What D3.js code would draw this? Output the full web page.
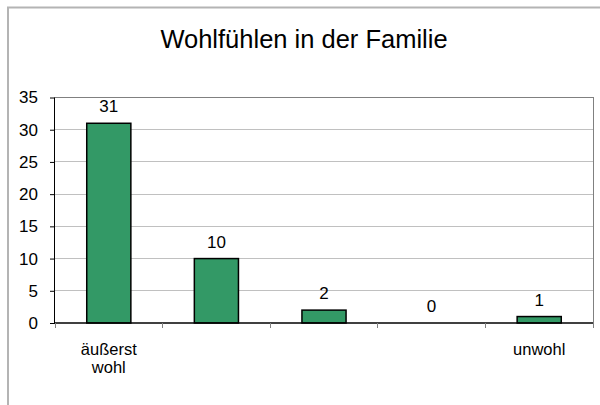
<!DOCTYPE html>
<html><head><meta charset="utf-8">
<script src="https://cdn.jsdelivr.net/npm/d3@7"></script>
<style>body{margin:0;background:#fff}svg{display:block}text{font-family:"Liberation Sans",Arial,sans-serif;fill:#000}</style>
</head><body>
<script>
const categories = ["äußerst wohl", "", "", "", "unwohl"];
const values = [31, 10, 2, 0, 1];
const yTicks = [0, 5, 10, 15, 20, 25, 30, 35];
const title = "Wohlfühlen in der Familie";

const W = 600, H = 405;
const svg = d3.select("body").append("svg").attr("width", W).attr("height", H);
svg.append("rect").attr("width", W).attr("height", H).attr("fill", "#fff");
// outer frame
svg.append("path").attr("d", "M8,405 V7.5 H600").attr("fill", "none").attr("stroke", "#b4b4b4").attr("stroke-width", 2);

const L = 55, R = 593, T = 97.5, B = 323;
const x = d3.scaleBand().domain(d3.range(categories.length)).range([L, R]);
const y = d3.scaleLinear().domain([0, 35]).range([B, T]);

svg.append("text").attr("x", 304).attr("y", 48).attr("text-anchor", "middle")
  .style("font-size", "25.5px").text(title);

// gridlines
svg.append("g").selectAll("line").data(yTicks.filter(d => d > 0 && d < 35)).join("line")
  .attr("x1", L).attr("x2", R).attr("y1", d => y(d)).attr("y2", d => y(d))
  .attr("stroke", "#c0c0c0").attr("stroke-width", 1).attr("shape-rendering", "crispEdges");
// plot border top/right
svg.append("path").attr("d", `M${L},${y(35)} H${R} V${B}`).attr("fill", "none")
  .attr("stroke", "#808080").attr("stroke-width", 1).attr("shape-rendering", "crispEdges");

// y axis
const yAxis = d3.axisLeft(y).tickValues(yTicks).tickSize(5).tickPadding(12);
const gy = svg.append("g").attr("transform", `translate(${L},0)`).call(yAxis);
gy.select(".domain").attr("stroke", "#000").attr("d", `M-0.5,${T}V${B}`);
gy.selectAll(".tick line").attr("stroke", "#000");
gy.selectAll("text").style("font-size", "17px").attr("fill", "#000");

// bars
const bw = x.bandwidth() * 0.41;
svg.append("g").selectAll("rect").data(values).join("rect")
  .attr("x", (d, i) => x(i) + x.bandwidth() / 2 - bw / 2)
  .attr("width", bw)
  .attr("y", d => y(d))
  .attr("height", d => B - y(d))
  .attr("fill", "#339966").attr("stroke", "#000").attr("stroke-width", 1.5)
  .style("display", d => d > 0 ? null : "none");

// value labels
svg.append("g").selectAll("text").data(values).join("text")
  .attr("x", (d, i) => x(i) + x.bandwidth() / 2)
  .attr("y", d => y(d) - 11)
  .attr("text-anchor", "middle").style("font-size", "17px").text(d => d);

// x axis
svg.append("line").attr("x1", L).attr("x2", R).attr("y1", B).attr("y2", B)
  .attr("stroke", "#000").attr("stroke-width", 1.5);
const bounds = d3.range(categories.length + 1).map(i => L + i * x.bandwidth());
svg.append("g").selectAll("line").data(bounds).join("line")
  .attr("x1", d => d).attr("x2", d => d).attr("y1", B).attr("y2", B + 5)
  .attr("stroke", "#808080").attr("shape-rendering", "crispEdges");

const cl = svg.append("g").selectAll("text").data(categories).join("text")
  .attr("x", (d, i) => x(i) + x.bandwidth() / 2)
  .attr("y", 355).attr("text-anchor", "middle").style("font-size", "16.5px");
cl.each(function(d) {
  const words = d.split(" ").filter(w => w);
  const t = d3.select(this);
  words.forEach((w, k) => t.append("tspan").attr("x", t.attr("x")).attr("dy", k ? 18 : 0).text(w));
});
</script>
</body></html>
